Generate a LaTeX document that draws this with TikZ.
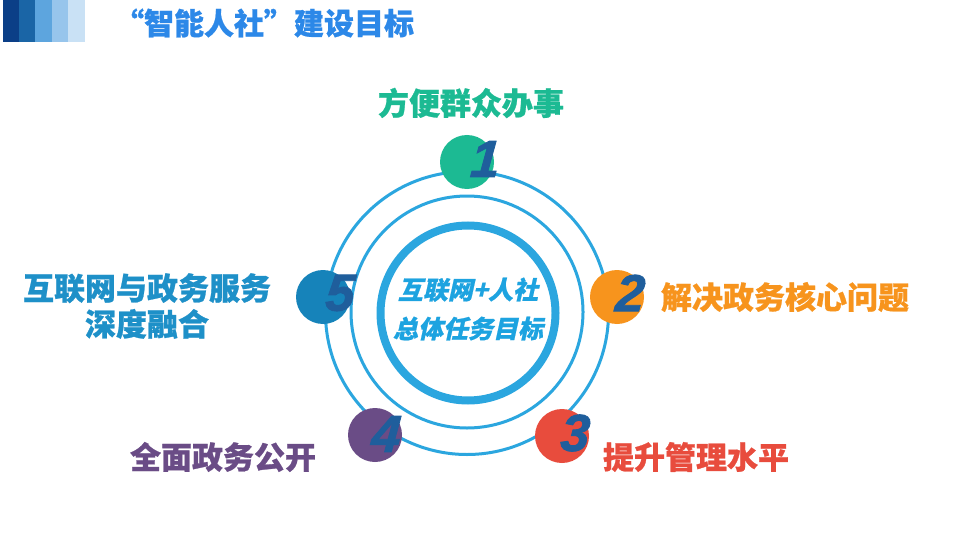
\documentclass[tikz,border=0pt]{standalone}
\usepackage{fontspec}
\newfontfamily\cjk{Noto Sans CJK SC Black}[FakeBold=0.8]
\newfontfamily\cjkit{Noto Sans CJK SC Black}[FakeSlant=0.22, FakeBold=0.8]
\newfontfamily\numfont{Liberation Sans Bold Italic}[FakeBold=1.6, FakeSlant=0.08]
\definecolor{barA}{HTML}{0B3F87}
\definecolor{barB}{HTML}{1A65A6}
\definecolor{barC}{HTML}{5DA5DE}
\definecolor{barD}{HTML}{97C5EC}
\definecolor{barE}{HTML}{C9E1F5}
\definecolor{titleblue}{HTML}{2C88E8}
\definecolor{ringblue}{HTML}{2BA6DF}
\definecolor{centerblue}{HTML}{1DA3E0}
\definecolor{numblue}{HTML}{1F5E9C}
\definecolor{cgreen}{HTML}{1CBA93}
\definecolor{corange}{HTML}{F7941D}
\definecolor{cred}{HTML}{E84C3D}
\definecolor{cpurple}{HTML}{6A4C86}
\definecolor{cblue}{HTML}{1683BA}
\definecolor{lblue}{HTML}{1E90C8}
\tikzset{
  ring/.style={circle, draw=ringblue, inner sep=0pt},
  dot/.style={circle, inner sep=0pt, minimum size=54pt},
  num/.style={inner sep=0pt, text=numblue, font=\numfont\fontsize{52}{52}\selectfont},
  lab/.style={inner sep=0pt, font=\cjk\fontsize{31}{36}\selectfont, align=center},
}
\begin{document}
\begin{tikzpicture}[x=1pt,y=-1pt]
\useasboundingbox (0,0) rectangle (960,540);
\fill[white] (0,0) rectangle (960,540);
% header bars
\fill[barA] (3,0) rectangle (19,42);
\fill[barB] (19,0) rectangle (35,42);
\fill[barC] (35,0) rectangle (52,42);
\fill[barD] (52,0) rectangle (68,42);
\fill[barE] (68,0) rectangle (85,42);
\node[lab, text=titleblue, font=\cjk\fontsize{30}{36}\selectfont] (title) at (264,23) {“智能人社”建设目标};
% rings
\node[ring, line width=3pt, minimum size=283pt] (outer) at (467,313) {};
\node[ring, line width=3pt, minimum size=232pt] (middle) at (467,312) {};
\node[ring, line width=8pt, minimum size=175pt] (inner) at (468,313) {};
\node[inner sep=0pt, text=centerblue, font=\cjkit\fontsize{25}{39}\selectfont, align=center] (center) at (468,309) {互联网+人社\\总体任务目标};
% dots
\node[dot, fill=cgreen] (d1) at (467,162) {};
\node[dot, fill=corange] (d2) at (617,297) {};
\node[dot, fill=cred] (d3) at (562,436) {};
\node[dot, fill=cpurple] (d4) at (375,435) {};
\node[dot, fill=cblue] (d5) at (323,297) {};
\node[num] (n1) at (484,159) {1};
\node[num] (n2) at (629,293) {2};
\node[num] (n3) at (574,433) {3};
\node[num] (n4) at (385,434) {4};
\node[num] (n5) at (339,293) {5};
% labels
\node[lab, text=cgreen] (l1) at (471,103) {方便群众办事};
\node[lab, text=corange] (l2) at (785,297) {解决政务核心问题};
\node[lab, text=cred] (l3) at (696,457) {提升管理水平};
\node[lab, text=cpurple] (l4) at (223,457) {全面政务公开};
\node[lab, text=lblue] (l5) at (147,306) {互联网与政务服务\\深度融合};
\end{tikzpicture}
\end{document}
